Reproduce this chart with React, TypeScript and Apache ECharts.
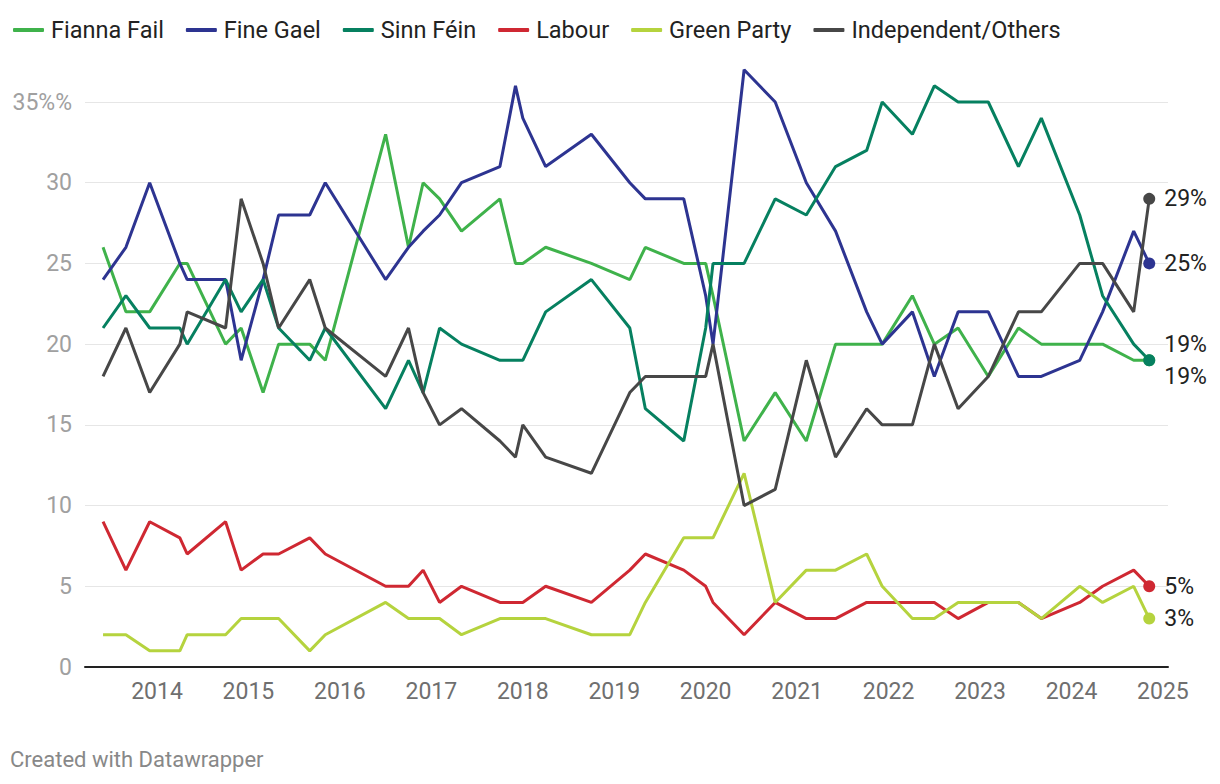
import React, { useEffect, useRef } from "react";
import * as echarts from "echarts";

// Poll dates as decimal years
const pollDates = [
  2013.41, 2013.66, 2013.92, 2014.25, 2014.33, 2014.75, 2014.92, 2015.16, 2015.33, 2015.67,
  2015.84, 2016.5, 2016.75, 2016.91, 2017.09, 2017.33, 2017.75, 2017.92, 2018.0, 2018.25,
  2018.75, 2019.17, 2019.34, 2019.76, 2020.0, 2020.08, 2020.42, 2020.76, 2021.1, 2021.42,
  2021.76, 2021.93, 2022.26, 2022.5, 2022.76, 2023.09, 2023.42, 2023.67, 2024.09, 2024.34,
  2024.68, 2024.85,
];

const fiannaFail = [
  26, 22, 22, 25, 25, 20, 21, 17, 20, 20, 19, 33, 26, 30, 29, 27, 29, 25, 25, 26, 25, 24, 26, 25, 25,
  23, 14, 17, 14, 20, 20, 20, 23, 20, 21, 18, 21, 20, 20, 20, 19, 19,
];
const fineGael = [
  24, 26, 30, 25, 24, 24, 19, 24, 28, 28, 30, 24, 26, 27, 28, 30, 31, 36, 34, 31, 33, 30, 29, 29, 23,
  20, 37, 35, 30, 27, 22, 20, 22, 18, 22, 22, 18, 18, 19, 22, 27, 25,
];
const sinnFein = [
  21, 23, 21, 21, 20, 24, 22, 24, 21, 19, 21, 16, 19, 17, 21, 20, 19, 19, 19, 22, 24, 21, 16, 14, 21,
  25, 25, 29, 28, 31, 32, 35, 33, 36, 35, 35, 31, 34, 28, 23, 20, 19,
];
const labour = [
  9, 6, 9, 8, 7, 9, 6, 7, 7, 8, 7, 5, 5, 6, 4, 5, 4, 4, 4, 5, 4, 6, 7, 6, 5, 4, 2, 4, 3, 3, 4, 4, 4,
  4, 3, 4, 4, 3, 4, 5, 6, 5,
];
const greenParty = [
  2, 2, 1, 1, 2, 2, 3, 3, 3, 1, 2, 4, 3, 3, 3, 2, 3, 3, 3, 3, 2, 2, 4, 8, 8, 8, 12, 4, 6, 6, 7, 5, 3,
  3, 4, 4, 4, 3, 5, 4, 5, 3,
];
const independents = [
  18, 21, 17, 20, 22, 21, 29, 25, 21, 24, 21, 18, 21, 17, 15, 16, 14, 13, 15, 13, 12, 17, 18, 18, 18,
  20, 10, 11, 19, 13, 16, 15, 15, 20, 16, 18, 22, 22, 25, 25, 22, 29,
];

const partyNames = ["Fianna Fail", "Fine Gael", "Sinn Féin", "Labour", "Green Party", "Independent/Others"];
const partyValues = [fiannaFail, fineGael, sinnFein, labour, greenParty, independents];
const partyColors = ["#3fb24b", "#2d3491", "#068060", "#cf2832", "#b5d33e", "#474747"];
const endLabelShift = [-16, 0, 16, 0, 0, 0];

const yearTicks = [2014, 2015, 2016, 2017, 2018, 2019, 2020, 2021, 2022, 2023, 2024, 2025];
const yTicks = [0, 5, 10, 15, 20, 25, 30, 35];

const FONT = "Roboto, 'Noto Sans', sans-serif";

export default function App() {
  const ref = useRef<HTMLDivElement>(null);

  useEffect(() => {
    if (!ref.current) return;
    const chart = echarts.init(ref.current, undefined, { renderer: "svg" });
    const n = pollDates.length;

    const series = partyNames.map((name, i) => ({
      name,
      type: "line",
      clip: false,
      data: pollDates.map((d, k) => [d, partyValues[i][k]]),
      color: partyColors[i],
      lineStyle: { width: 3, color: partyColors[i] },
      symbol: "circle",
      showSymbol: true,
      showAllSymbol: true,
      symbolSize: (_v: any, p: any) => (p.dataIndex === n - 1 ? 12 : 0),
      itemStyle: { color: partyColors[i] },
      emphasis: { disabled: true },
      endLabel: {
        show: true,
        formatter: (p: any) => `${p.value[1]}%`,
        fontSize: 23,
        color: "#222",
        fontFamily: FONT,
        distance: 15,
        offset: [0, endLabelShift[i]],
      },
    }));

    chart.setOption({
      animation: false,
      backgroundColor: "#fff",
      legend: {
        left: 8,
        top: 13,
        icon: "roundRect",
        itemWidth: 31,
        itemHeight: 4,
        itemGap: 22,
        textStyle: { fontSize: 23.5, color: "#222", fontFamily: FONT, padding: [0, 0, 0, 2] },
        data: partyNames,
      },
      grid: { left: 85, right: 52, top: 102, bottom: 117, containLabel: false },
      xAxis: {
        type: "value",
        min: 2013.2127,
        max: 2025.0552,
        splitLine: { show: false },
        axisTick: { show: false },
        axisLine: { show: true, lineStyle: { color: "#222", width: 2 } },
        axisLabel: {
          customValues: yearTicks,
          formatter: (v: number) => String(Math.round(v)),
          fontSize: 23,
          color: "#6f6f6f",
          fontFamily: FONT,
          margin: 13,
        },
      },
      yAxis: {
        type: "value",
        min: 0,
        max: 35,
        interval: 5,
        axisLine: { show: false },
        axisTick: { show: false },
        splitLine: { show: true, lineStyle: { color: "#e6e6e6", width: 1 } },
        axisLabel: {
          customValues: yTicks,
          formatter: (v: number) => (v === 35 ? "35%%" : String(v)),
          fontSize: 23,
          color: "#a0a0a0",
          fontFamily: FONT,
          margin: 13,
        },
      },
      graphic: [
        {
          type: "text",
          left: 10,
          top: 748,
          style: {
            text: "Created with Datawrapper",
            fontSize: 22,
            fill: "#888",
            fontFamily: FONT,
          },
        },
      ],
      series,
    });

    return () => chart.dispose();
  }, []);

  return (
    <div
      ref={ref}
      style={{ position: "fixed", left: 0, top: 0, width: 1220, height: 784, background: "#fff" }}
    />
  );
}
